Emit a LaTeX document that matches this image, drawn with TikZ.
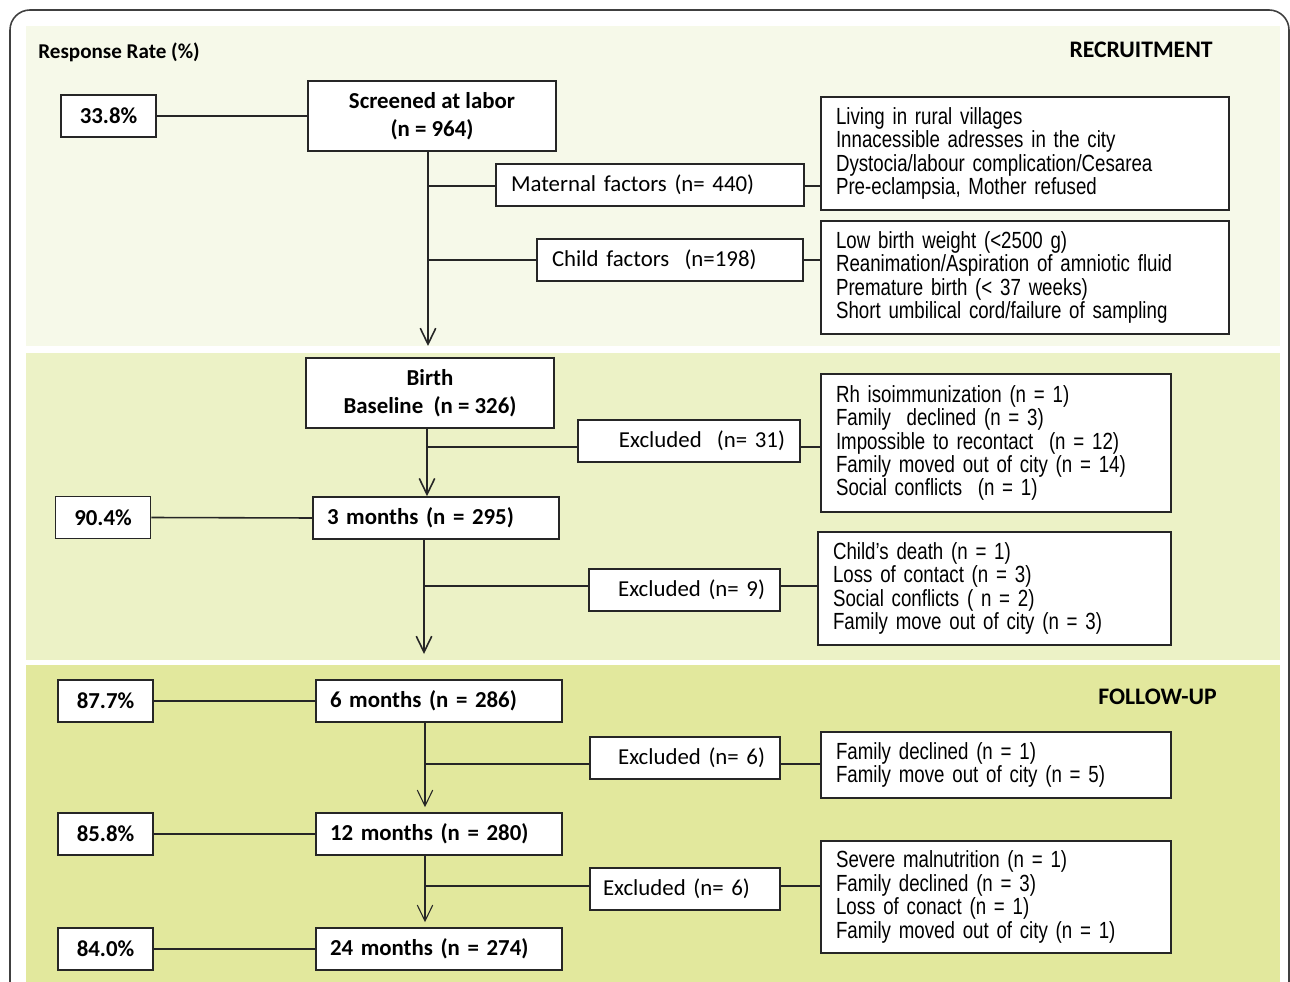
\documentclass[tikz,border=0pt]{standalone}
\usepackage{fontspec}
\setmainfont{Carlito}
\newfontfamily\narrowfont[FakeStretch=0.80, WordSpace=0.85]{Liberation Sans}
\usetikzlibrary{arrows.meta}

\definecolor{bandA}{HTML}{F6F9E9}
\definecolor{bandB}{HTML}{ECF2C6}
\definecolor{bandC}{HTML}{E2E89D}

\tikzset{
  box/.style={draw=black!85, line width=0.9pt, fill=white, inner ysep=0pt, minimum height=0.84cm},
  pctbox/.style={box, inner xsep=0pt, minimum width=1.9cm, font=\fontsize{13}{15}\selectfont\bfseries},
  stagebox/.style={box, inner xsep=0.28cm, text width=4.36cm, align=left, font=\fontsize{13}{15}\selectfont\bfseries},
  topbox/.style={box, inner xsep=0pt, minimum width=4.96cm, minimum height=1.4cm, align=center, font=\fontsize{13}{16}\selectfont\bfseries},
  exclbox/.style={box, inner xsep=0.3cm, font=\fontsize{13}{15}\selectfont},
  listbox/.style={box, inner xsep=0.3cm, align=left, font=\narrowfont\fontsize{13.3}{13.3}\selectfont},
  headtext/.style={inner sep=0pt, font=\fontsize{12}{14}\selectfont\bfseries},
  link/.style={black!85, line width=0.9pt},
  thinlink/.style={black!85, line width=0.6pt}
}

\begin{document}
\begin{tikzpicture}[x=0.02cm, y=-0.02cm, >={Straight Barb[length=0.32cm,width=0.31cm]}]

    \clip (0,0) rectangle (1290,982);

    % 1. Frame and the three coloured bands
    \draw[black!75, line width=0.9pt, rounded corners=0.4cm] (10,1010) -- (10,10) -- (1289,10) -- (1289,1010);
    \fill[bandA] (26,26)  rectangle (1280,346);
    \fill[bandB] (26,353) rectangle (1280,660);
    \fill[bandC] (26,665) rectangle (1280,990);

    \node[headtext, anchor=west] (resp)    at (38,52)    {Response Rate (\%)};
    \node[headtext, anchor=east, font=\fontsize{13.5}{15}\selectfont\bfseries] (recruit) at (1213,50)  {RECRUITMENT};
    \node[headtext, anchor=east, font=\fontsize{13.5}{15}\selectfont\bfseries] (follow)  at (1217,697) {FOLLOW-UP};

    % 2. Recruitment
    \node[pctbox] (p338) at (108.5,116) {33.8\%};
    \node[topbox] (screened) at (432,116) {Screened at labor\\(n = 964)};
    \node[exclbox, text width=5.56cm, align=left] (maternal) at (650,185) {Maternal factors (n= 440)};
    \node[listbox, text width=7.56cm, minimum height=2.26cm] (matlist) at (1025,153.5)
        {Living in rural villages\\Innacessible adresses in the city\\Dystocia/labour complication/Cesarea\\Pre-eclampsia, Mother refused};
    \node[exclbox, text width=4.72cm, align=left] (child) at (670,260) {Child factors \ (n=198)};
    \node[listbox, text width=7.56cm, minimum height=2.26cm] (childlist) at (1025,277.5)
        {Low birth weight (<2500 g)\\Reanimation/Aspiration of amniotic fluid\\Premature birth (< 37 weeks)\\Short umbilical cord/failure of sampling};

    \coordinate (tip1) at (428,346);
    \coordinate (bmat) at (428,186);
    \coordinate (bchild) at (428,260);

    \draw[link] (p338.east) -- (screened.west);
    \draw[link, ->] (screened.south -| tip1) -- (tip1);
    \draw[link] (bmat) -- (bmat -| maternal.west);
    \draw[link] (bmat -| maternal.east) -- (bmat -| matlist.west);
    \draw[link] (bchild) -- (bchild -| child.west);
    \draw[link] (bchild -| child.east) -- (bchild -| childlist.west);

    % 3. Birth and 3 months
    \node[topbox] (birth) at (430,393) {Birth\\Baseline \ (n = 326)};
    \node[exclbox, text width=3.84cm, align=right] (excl31) at (689,441) {Excluded \ (n= 31)};
    \node[listbox, text width=6.4cm, minimum height=2.76cm] (list31) at (996,443)
        {Rh isoimmunization (n = 1)\\Family \ declined (n = 3)\\Impossible to recontact \ (n = 12)\\Family moved out of city (n = 14)\\Social conflicts \ (n = 1)};
    \node[pctbox] (p904) at (103,517.5) {90.4\%};
    \node[stagebox] (m3) at (436,518) {3 months (n = 295)};
    \node[exclbox, text width=3.22cm, align=right] (excl9) at (684.5,590) {Excluded (n= 9)};
    \node[listbox, text width=6.46cm, minimum height=2.26cm] (list9) at (994.5,588.5)
        {Child’s death (n = 1)\\Loss of contact (n = 3)\\Social conflicts ( n = 2)\\Family move out of city (n = 3)};

    \coordinate (b31) at (427,447);
    \coordinate (b9) at (424,586);
    \coordinate (tip3) at (424,654);

    \draw[link, ->] (birth.south -| b31) -- (m3.north -| b31);
    \draw[link] (b31) -- (b31 -| excl31.west);
    \draw[link] (b31 -| excl31.east) -- (b31 -| list31.west);
    \draw[link] (p904.east) -- (m3.west);
    \draw[link, ->] (m3.south -| tip3) -- (tip3);
    \draw[link] (b9) -- (b9 -| excl9.west);
    \draw[link] (b9 -| excl9.east) -- (b9 -| list9.west);

    % 4. Follow-up
    \node[pctbox] (p877) at (105.5,701) {87.7\%};
    \node[stagebox] (m6) at (439,701) {6 months (n = 286)};
    \node[exclbox, text width=3.2cm, align=right] (excl6a) at (685,758) {Excluded (n= 6)};
    \node[listbox, text width=6.4cm, minimum height=1.32cm] (list6a) at (996,765)
        {Family declined (n = 1)\\Family move out of city (n = 5)};
    \node[pctbox] (p858) at (105.5,834) {85.8\%};
    \node[stagebox] (m12) at (439,834) {12 months (n = 280)};
    \node[exclbox, inner xsep=0.26cm, text width=3.28cm, align=left] (excl6b) at (685,889) {Excluded (n= 6)};
    \node[listbox, text width=6.4cm, minimum height=2.24cm] (list6b) at (996,897)
        {Severe malnutrition (n = 1)\\Family declined (n = 3)\\Loss of conact (n = 1)\\Family moved out of city (n = 1)};
    \node[pctbox] (p840) at (105.5,949) {84.0\%};
    \node[stagebox] (m24) at (439,949) {24 months (n = 274)};

    \coordinate (b6a) at (425,764);
    \coordinate (b6b) at (425,886);

    \draw[link] (p877.east) -- (m6.west);
    \draw[link] (p858.east) -- (m12.west);
    \draw[link] (p840.east) -- (m24.west);
    \draw[thinlink, ->, shorten >=0.1cm] (m6.south -| b6a) -- (m12.north -| b6a);
    \draw[thinlink, ->, shorten >=0.1cm] (m12.south -| b6b) -- (m24.north -| b6b);
    \draw[link] (b6a) -- (b6a -| excl6a.west);
    \draw[link] (b6a -| excl6a.east) -- (b6a -| list6a.west);
    \draw[link] (b6b) -- (b6b -| excl6b.west);
    \draw[link] (b6b -| excl6b.east) -- (b6b -| list6b.west);

\end{tikzpicture}
\end{document}
